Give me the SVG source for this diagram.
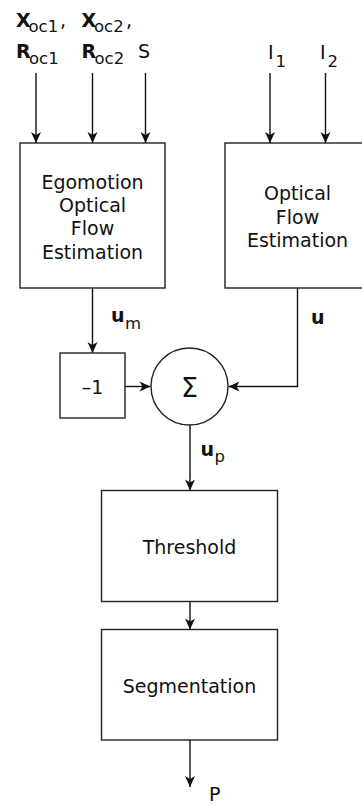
<svg xmlns="http://www.w3.org/2000/svg" width="362" height="805" viewBox="0 0 362 805">
  <style>
    text { font-family: "DejaVu Sans", "Liberation Sans", sans-serif; fill: #111; }
    .lbl { font-size: 19px; }
    .mid { text-anchor: middle; }
    .b { font-weight: bold; font-size: 19px; }
    .sub { font-size: 16.5px; }
    .box { fill: #fff; stroke: #222; stroke-width: 1.4; }
    .wire { fill: none; stroke: #111; stroke-width: 1.4; marker-end: url(#head); }
  </style>
  <defs>
    <marker id="head" viewBox="-12 -6 13 12" refX="0" refY="0" markerWidth="13" markerHeight="12" markerUnits="userSpaceOnUse" orient="auto">
      <path d="M0,0 L-11,-5 L-8,0 L-11,5 z" fill="#111"/>
    </marker>
  </defs>
  <rect width="362" height="805" fill="#fff"/>

  <!-- input labels -->
  <g id="inputs">
    <text class="b" x="16" y="27">X</text><text class="sub" x="28.5" y="32">oc1</text><text class="lbl" x="60" y="27">,</text>
    <text class="b" x="81.5" y="27">X</text><text class="sub" x="94" y="32">oc2</text><text class="lbl" x="126" y="27">,</text>
    <text class="b" x="16" y="57.5">R</text><text class="sub" x="29" y="63.5">oc1</text>
    <text class="b" x="81.5" y="57.5">R</text><text class="sub" x="94.5" y="63.5">oc2</text>
    <text class="lbl" x="138" y="57.5">S</text>
    <text class="lbl" x="268" y="58.5">I</text><text class="sub" x="275.5" y="66.5">1</text>
    <text class="lbl" x="320" y="58.5">I</text><text class="sub" x="327.5" y="66.5">2</text>
  </g>

  <!-- connectors -->
  <g id="connectors">
    <line class="wire" x1="36" y1="73" x2="36" y2="143"/>
    <line class="wire" x1="92.5" y1="73" x2="92.5" y2="143"/>
    <line class="wire" x1="145.5" y1="73" x2="145.5" y2="143"/>
    <line class="wire" x1="270" y1="73" x2="270" y2="143"/>
    <line class="wire" x1="325.5" y1="73" x2="325.5" y2="143"/>
    <line class="wire" x1="92.5" y1="288" x2="92.5" y2="353"/>
    <polyline class="wire" points="297.5,288 297.5,386.5 228.5,386.5"/>
    <line class="wire" x1="125" y1="386.5" x2="150.5" y2="386.5"/>
    <line class="wire" x1="190" y1="425" x2="190" y2="490.5"/>
    <line class="wire" x1="190" y1="601.5" x2="190" y2="629.5"/>
    <line class="wire" x1="190" y1="740" x2="190" y2="787"/>
  </g>

  <!-- connector labels -->
  <g id="signal-labels">
    <text class="b" x="111" y="321.5">u</text><text class="sub" x="125" y="328.5">m</text>
    <text class="b" x="311" y="324">u</text>
    <text class="b" x="200.5" y="456">u</text><text class="sub" x="214.5" y="461.5">p</text>
    <text class="lbl" x="209" y="801">P</text>
  </g>

  <g id="egomotion">
    <rect class="box" x="20" y="143" width="145" height="145"/>
    <text class="lbl mid" x="92.5" y="188.5">Egomotion</text>
    <text class="lbl mid" x="92.5" y="211.5">Optical</text>
    <text class="lbl mid" x="92.5" y="235">Flow</text>
    <text class="lbl mid" x="92.5" y="258.5">Estimation</text>
  </g>

  <g id="optical-flow">
    <rect class="box" x="225" y="143" width="145" height="145"/>
    <text class="lbl mid" x="297.5" y="200">Optical</text>
    <text class="lbl mid" x="297.5" y="223.5">Flow</text>
    <text class="lbl mid" x="297.5" y="247">Estimation</text>
  </g>

  <g id="negate">
    <rect class="box" x="60" y="353" width="65" height="65"/>
    <text class="lbl mid" x="92.5" y="394">–1</text>
  </g>

  <g id="sum">
    <circle class="box" cx="189.5" cy="386.5" r="38.5"/>
    <text class="mid" x="189.5" y="397" style="font-size:27px">Σ</text>
  </g>

  <g id="threshold">
    <rect class="box" x="101.5" y="490.5" width="176" height="111"/>
    <text class="lbl mid" x="189.5" y="554">Threshold</text>
  </g>

  <g id="segmentation">
    <rect class="box" x="101.5" y="629.5" width="176" height="110.5"/>
    <text class="lbl mid" x="189.5" y="692.5">Segmentation</text>
  </g>
</svg>
